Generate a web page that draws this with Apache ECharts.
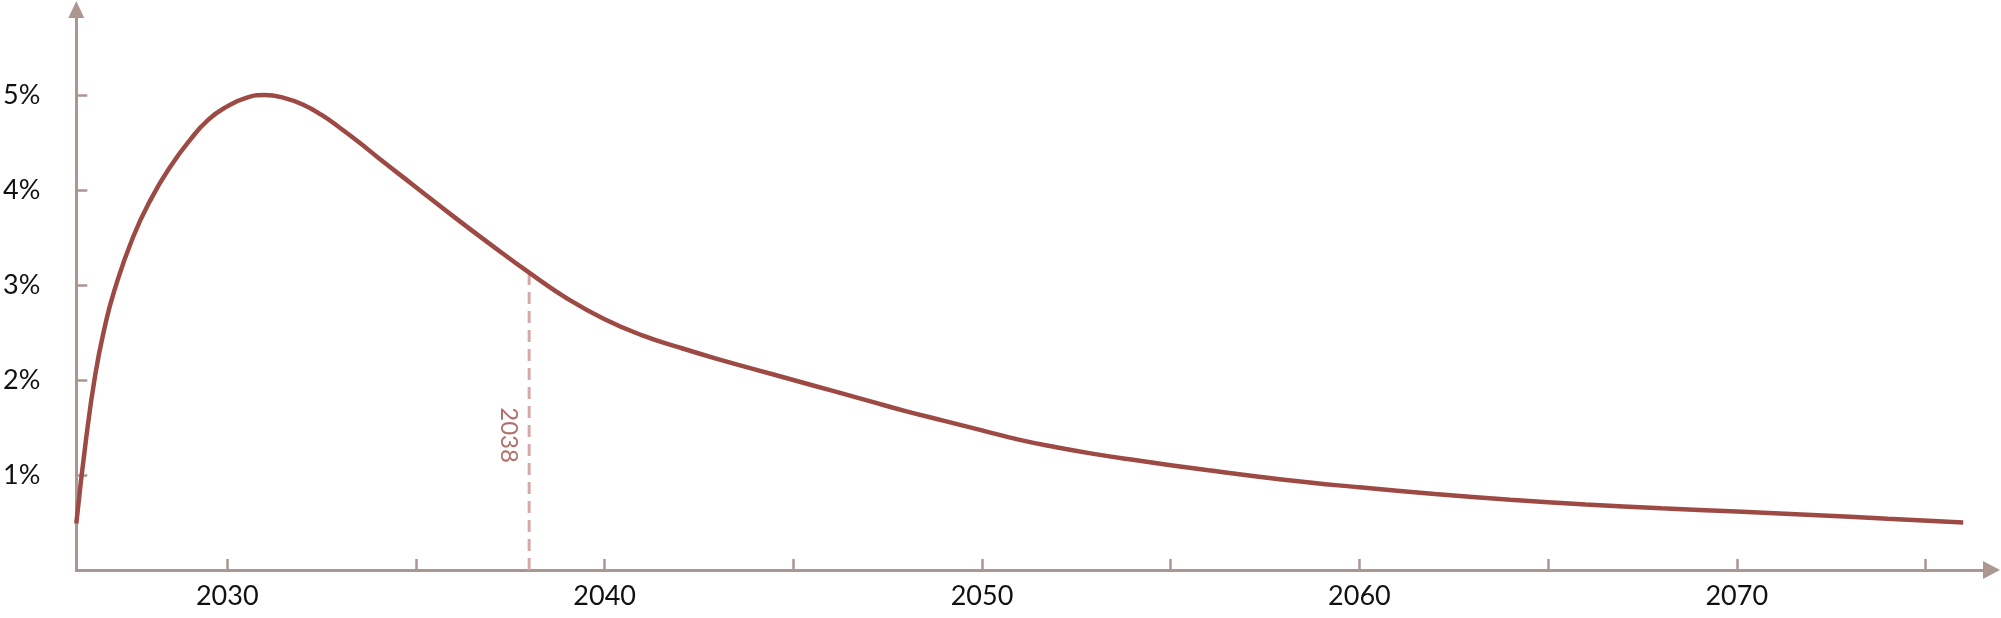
<!DOCTYPE html>
<html>
<head>
<meta charset="utf-8">
<script src="https://cdn.jsdelivr.net/npm/echarts@6/dist/echarts.min.js"></script>
<style>
  html, body { margin: 0; padding: 0; background: #ffffff; }
  #chart { width: 2001px; height: 618px; }
</style>
</head>
<body>
<div id="chart"></div>
<script>
// ---- Data ----
const years = [2026, 2026.25, 2026.5, 2026.75, 2027, 2027.5, 2028, 2028.5, 2029, 2029.5, 2030, 2030.5, 2031, 2031.5, 2032, 2032.5, 2033, 2033.5, 2034, 2035, 2036, 2037, 2038, 2039, 2040, 2041, 2042, 2043, 2044, 2045, 2046, 2047, 2048, 2049, 2050, 2051, 2052, 2053, 2054, 2056, 2058, 2060, 2062, 2064, 2066, 2068, 2070, 2072, 2074, 2076];
const values = [0.49, 1.35, 2.05, 2.55, 2.93, 3.5, 3.92, 4.25, 4.52, 4.74, 4.88, 4.97, 5.0, 4.97, 4.9, 4.79, 4.65, 4.5, 4.34, 4.03, 3.72, 3.42, 3.13, 2.86, 2.64, 2.47, 2.34, 2.22, 2.11, 2.0, 1.89, 1.78, 1.67, 1.57, 1.47, 1.37, 1.29, 1.22, 1.16, 1.05, 0.95, 0.87, 0.8, 0.74, 0.69, 0.65, 0.615, 0.58, 0.54, 0.5];

const xTickValues = [2030, 2035, 2040, 2045, 2050, 2055, 2060, 2065, 2070, 2075];
const xLabelValues = [2030, 2040, 2050, 2060, 2070];
const yTickValues = [1, 2, 3, 4, 5];

const markerYear = 2038;
const markerValue = 3.13;
const markerLabel = '2038';
const markerLabelY = 1.42;

// ---- Styles ----
const curveColor = '#9d4a45';
const axisColor = '#ab9792';
const dashColor = '#d6a9a8';
const fontFamily = 'Lato, "Open Sans", sans-serif';

const chart = echarts.init(document.getElementById('chart'), null, { renderer: 'canvas' });

chart.setOption({
  animation: false,
  backgroundColor: '#ffffff',
  grid: { left: 68, right: 9.5, top: 9.5, bottom: 48, containLabel: false },
  xAxis: {
    type: 'value',
    min: 2026,
    max: 2076.75,
    axisLine: {
      onZero: false,
      lineStyle: { color: axisColor, width: 3 },
      symbol: ['none', 'triangle'],
      symbolSize: [18, 17]
    },
    axisTick: {
      inside: true,
      length: 11,
      lineStyle: { color: axisColor, width: 2.5 },
      customValues: xTickValues
    },
    axisLabel: {
      customValues: xLabelValues,
      fontSize: 27,
      fontFamily: fontFamily,
      color: '#111111',
      margin: 13,
      formatter: v => String(v)
    },
    splitLine: { show: false }
  },
  yAxis: {
    type: 'value',
    min: 0,
    max: 5.9,
    axisLine: {
      show: true,
      onZero: false,
      lineStyle: { color: axisColor, width: 3 },
      symbol: ['none', 'triangle'],
      symbolSize: [16, 17]
    },
    axisTick: {
      show: true,
      inside: true,
      length: 11,
      lineStyle: { color: axisColor, width: 2.5 },
      customValues: yTickValues
    },
    axisLabel: {
      customValues: yTickValues,
      fontSize: 27,
      fontFamily: fontFamily,
      color: '#111111',
      margin: 36,
      formatter: v => v + '%'
    },
    splitLine: { show: false }
  },
  series: [
    {
      name: 'marker',
      type: 'line',
      data: [[markerYear, 0], [markerYear, markerValue]],
      symbol: 'none',
      lineStyle: { color: dashColor, width: 3, type: [12, 7] },
      z: 1
    },
    {
      name: 'markerLabel',
      type: 'scatter',
      data: [[markerYear, markerLabelY]],
      symbolSize: 0,
      silent: true,
      label: {
        show: true,
        formatter: markerLabel,
        position: 'inside',
        rotate: -90,
        offset: [0, 20],
        fontSize: 24,
        fontFamily: fontFamily,
        color: curveColor
      },
      z: 2
    },
    {
      name: 'curve',
      type: 'line',
      data: years.map((y, i) => [y, values[i]]),
      symbol: 'none',
      smooth: 0.5,
      lineStyle: { color: curveColor, width: 4.5 },
      z: 3
    }
  ]
});
</script>
</body>
</html>
